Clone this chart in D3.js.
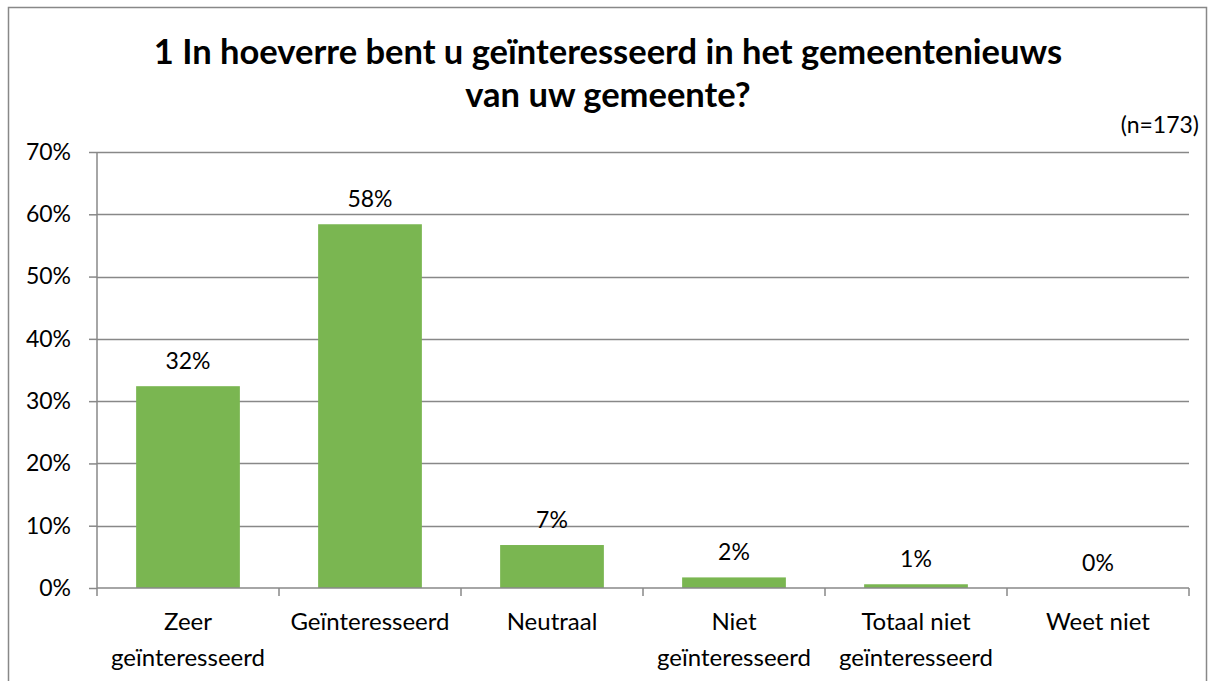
<!DOCTYPE html>
<html>
<head>
<meta charset="utf-8">
<script src="https://cdn.jsdelivr.net/npm/d3@7"></script>
<style>
  body { margin: 0; background: #fff; }
  svg text { font-family: Lato, "Open Sans", sans-serif; fill: #000; }
</style>
</head>
<body>
<script>
// gegevens van de grafiek
var categorieen = [["Zeer", "geïnteresseerd"], ["Geïnteresseerd"], ["Neutraal"], ["Niet", "geïnteresseerd"], ["Totaal niet", "geïnteresseerd"], ["Weet niet"]];
var percentages = [32.4, 58.4, 6.9, 1.7, 0.6, 0];
var labels = ["32%", "58%", "7%", "2%", "1%", "0%"];
var yTicks = [0, 10, 20, 30, 40, 50, 60, 70];
var titel = ["1 In hoeverre bent u geïnteresseerd in het gemeentenieuws", "van uw gemeente?"];

var breedte = 1214, hoogte = 681;
var marge = {boven: 152, links: 97, rechts: 25, beneden: 93};
var letter = "23px";

var svg = d3.select("body").append("svg")
    .attr("width", breedte)
    .attr("height", hoogte);

// rand om de grafiek
svg.append("rect")
   .attr("x", 8.5).attr("y", 7.5)
   .attr("width", 1198).attr("height", 700)
   .attr("fill", "#fff")
   .attr("stroke", "#888").attr("stroke-width", 1.5);

var x = d3.scaleBand()
    .domain(d3.range(categorieen.length))
    .range([marge.links, breedte - marge.rechts])
    .paddingInner(0.43).paddingOuter(0.215);

var xAs = d3.scaleBand()
    .domain(d3.range(categorieen.length))
    .range([marge.links, breedte - marge.rechts]);

var y = d3.scaleLinear()
    .domain([0, 70])
    .range([hoogte - marge.beneden, marge.boven]);

// rasterlijnen
svg.append("g").selectAll("line")
   .data(yTicks.slice(1))
   .enter().append("line")
   .attr("x1", marge.links).attr("x2", breedte - marge.rechts)
   .attr("y1", function(d) { return Math.round(y(d)) + 0.5; })
   .attr("y2", function(d) { return Math.round(y(d)) + 0.5; })
   .attr("stroke", "#888").attr("stroke-width", 1.5);

// staven
svg.append("g").selectAll("rect")
   .data(percentages)
   .enter().append("rect")
   .attr("x", function(d, i) { return x(i); })
   .attr("width", x.bandwidth())
   .attr("y", function(d) { return y(d); })
   .attr("height", function(d) { return y(0) - y(d); })
   .attr("fill", "#7ab651");

// y-as
var asY = svg.append("g")
   .attr("transform", "translate(" + marge.links + ",0)")
   .call(d3.axisLeft(y).tickValues(yTicks).tickSize(8).tickPadding(18)
     .tickFormat(function(d) { return d + "%"; }));
asY.selectAll("text").attr("font-size", letter).attr("font-family", "Lato, sans-serif");
asY.selectAll("line, path").attr("stroke", "#888").attr("stroke-width", 1.5);
asY.select(".domain").attr("d", "M0," + y(70) + "V" + y(0));

// x-as
var asX = svg.append("g")
   .attr("transform", "translate(0," + y(0) + ")");
asX.append("line")
   .attr("x1", marge.links).attr("x2", breedte - marge.rechts)
   .attr("stroke", "#888").attr("stroke-width", 1.5);
asX.selectAll(".tick")
   .data(d3.range(categorieen.length + 1))
   .enter().append("line")
   .attr("x1", function(d) { return marge.links + d * xAs.step(); })
   .attr("x2", function(d) { return marge.links + d * xAs.step(); })
   .attr("y1", 0).attr("y2", 8)
   .attr("stroke", "#888").attr("stroke-width", 1.5);

var catTekst = asX.selectAll("text.cat")
   .data(categorieen)
   .enter().append("text")
   .attr("class", "cat")
   .attr("text-anchor", "middle")
   .attr("font-size", "24px")
   .attr("x", function(d, i) { return xAs(i) + xAs.bandwidth() / 2; });
catTekst.selectAll("tspan")
   .data(function(d) { return d; })
   .enter().append("tspan")
   .attr("x", function() { return d3.select(this.parentNode).attr("x"); })
   .attr("y", function(d, i) { return 42 + i * 36; })
   .text(function(d) { return d; });

// waardelabels
svg.append("g").selectAll("text")
   .data(percentages)
   .enter().append("text")
   .attr("x", function(d, i) { return x(i) + x.bandwidth() / 2; })
   .attr("y", function(d) { return y(d) - 17; })
   .attr("text-anchor", "middle")
   .attr("font-size", letter)
   .text(function(d, i) { return labels[i]; });

// titel
svg.append("text")
   .attr("x", 608).attr("y", 64)
   .attr("text-anchor", "middle")
   .attr("font-size", "34.5px").attr("font-weight", "bold")
   .selectAll("tspan")
   .data(titel)
   .enter().append("tspan")
   .attr("x", 608)
   .attr("dy", function(d, i) { return i === 0 ? 0 : 43; })
   .text(function(d) { return d; });

svg.append("text")
   .attr("x", 1199).attr("y", 133)
   .attr("text-anchor", "end")
   .attr("font-size", letter)
   .text("(n=173)");
</script>
</body>
</html>
